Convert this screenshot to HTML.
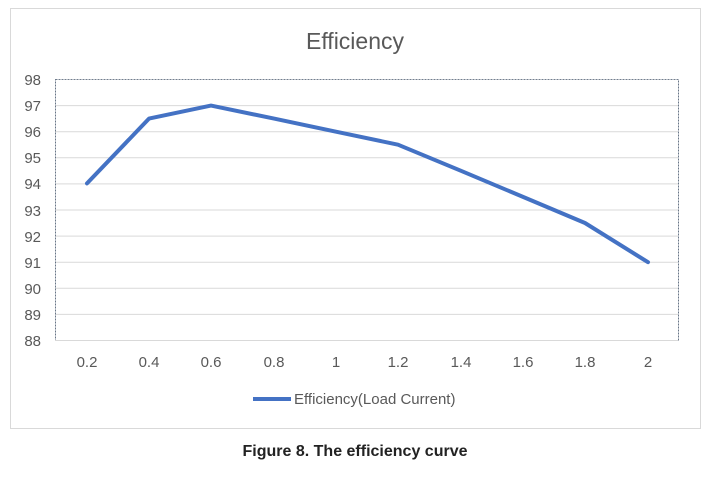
<!DOCTYPE html>
<html><head><style>
body{margin:0;background:#fff;}
svg{display:block;font-family:"Liberation Sans",sans-serif;}
</style></head><body>
<svg width="712" height="478" viewBox="0 0 712 478">
<rect x="10.5" y="8.5" width="690" height="420" fill="#fff" stroke="#d9d9d9"/>
<text x="355" y="49" text-anchor="middle" font-size="23" fill="#595959">Efficiency</text>
<g stroke="#d9d9d9" stroke-width="1">
<line x1="55" x2="678" y1="105.6" y2="105.6"/><line x1="55" x2="678" y1="131.7" y2="131.7"/>
<line x1="55" x2="678" y1="157.8" y2="157.8"/><line x1="55" x2="678" y1="183.9" y2="183.9"/>
<line x1="55" x2="678" y1="210" y2="210"/><line x1="55" x2="678" y1="236.1" y2="236.1"/>
<line x1="55" x2="678" y1="262.2" y2="262.2"/><line x1="55" x2="678" y1="288.3" y2="288.3"/>
<line x1="55" x2="678" y1="314.4" y2="314.4"/><line x1="55" x2="678" y1="340.5" y2="340.5"/>
</g>
<rect x="55.5" y="79.5" width="623" height="261" fill="none" stroke="#44546a" stroke-width="0.8" stroke-dasharray="2,1"/>
<line x1="55" x2="678" y1="340.5" y2="340.5" stroke="#d9d9d9"/>
<g font-size="15" fill="#595959" text-anchor="end">
<text x="41" y="85">98</text><text x="41" y="111">97</text><text x="41" y="137">96</text>
<text x="41" y="163">95</text><text x="41" y="189">94</text><text x="41" y="216">93</text>
<text x="41" y="242">92</text><text x="41" y="268">91</text><text x="41" y="294">90</text>
<text x="41" y="320">89</text><text x="41" y="346">88</text>
</g>
<g font-size="15" fill="#595959" text-anchor="middle">
<text x="87" y="367">0.2</text><text x="149" y="367">0.4</text><text x="211" y="367">0.6</text>
<text x="274" y="367">0.8</text><text x="336" y="367">1</text><text x="398" y="367">1.2</text>
<text x="461" y="367">1.4</text><text x="523" y="367">1.6</text><text x="585" y="367">1.8</text>
<text x="648" y="367">2</text>
</g>
<polyline fill="none" stroke="#4472c4" stroke-width="4" stroke-linejoin="round" stroke-linecap="round"
points="87,183.4 149,118.6 211,105.6 274,118.6 336,131.7 398,144.7 461,170.8 523,196.9 585,223 648,262.2"/>
<line x1="253" x2="291" y1="399" y2="399" stroke="#4472c4" stroke-width="4"/>
<text x="294" y="404" font-size="15" fill="#595959">Efficiency(Load Current)</text>
<text x="355" y="456" text-anchor="middle" font-size="16" font-weight="bold" fill="#222">Figure 8. The efficiency curve</text>
</svg>
</body></html>
